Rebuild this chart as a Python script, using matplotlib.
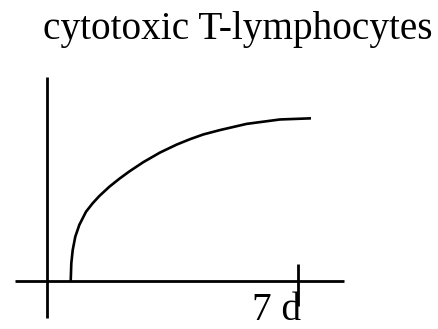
import matplotlib
matplotlib.use("Agg")
import matplotlib.pyplot as plt

# Data (days, relative level)
days = [0.661, 0.678, 0.717, 0.789, 0.901, 1.088, 1.274, 1.458, 1.737, 2.016, 2.295,
        2.685, 3.151, 3.617, 3.988, 4.358, 4.824, 5.569, 6.498, 7.361]
level = [0.0, 0.109, 0.190, 0.272, 0.344, 0.425, 0.477, 0.521, 0.578, 0.627, 0.672,
         0.729, 0.788, 0.837, 0.870, 0.899, 0.926, 0.964, 0.991, 0.998]
tick_day = 7
tick_label = "7 d"
title = "cytotoxic T-lymphocytes"

W, H = 438, 329
fig = plt.figure(figsize=(W / 100, H / 100), dpi=100)
ax = fig.add_axes([0, 0, 1, 1])
ax.set_axis_off()

# pixel mapping: day 0 at x=47 px, 35.86 px/day ; level 0 at y=281 px, 163 px/unit
xpx, ypx = 35.86, 163.0
ax.set_xlim(-47 / xpx, (W - 47) / xpx)
ax.set_ylim((281 - H) / ypx, 281 / ypx)

lw_axis = 2.0
ax.plot([(15 - 47) / xpx, (344 - 47) / xpx], [0, 0], color="black", lw=lw_axis, solid_capstyle="butt")
ax.plot([0, 0], [(281 - 318) / ypx, (281 - 77) / ypx], color="black", lw=lw_axis, solid_capstyle="butt")
ax.plot([tick_day, tick_day], [(281 - 264) / ypx, (281 - 306) / ypx], color="black", lw=lw_axis, solid_capstyle="butt")

ax.plot(days, level, color="black", lw=1.9, solid_capstyle="butt", solid_joinstyle="round", antialiased=True)

serif = ["Liberation Serif", "DejaVu Serif"]
fig.text(237.5 / W, 1 - 38.5 / H, title, ha="center", va="baseline", fontsize=28.3, family=serif)
fig.text(276.7 / W, 1 - 320.5 / H, tick_label, ha="center", va="baseline", fontsize=28.3, family=serif)

fig.savefig("out.png", dpi=100)
